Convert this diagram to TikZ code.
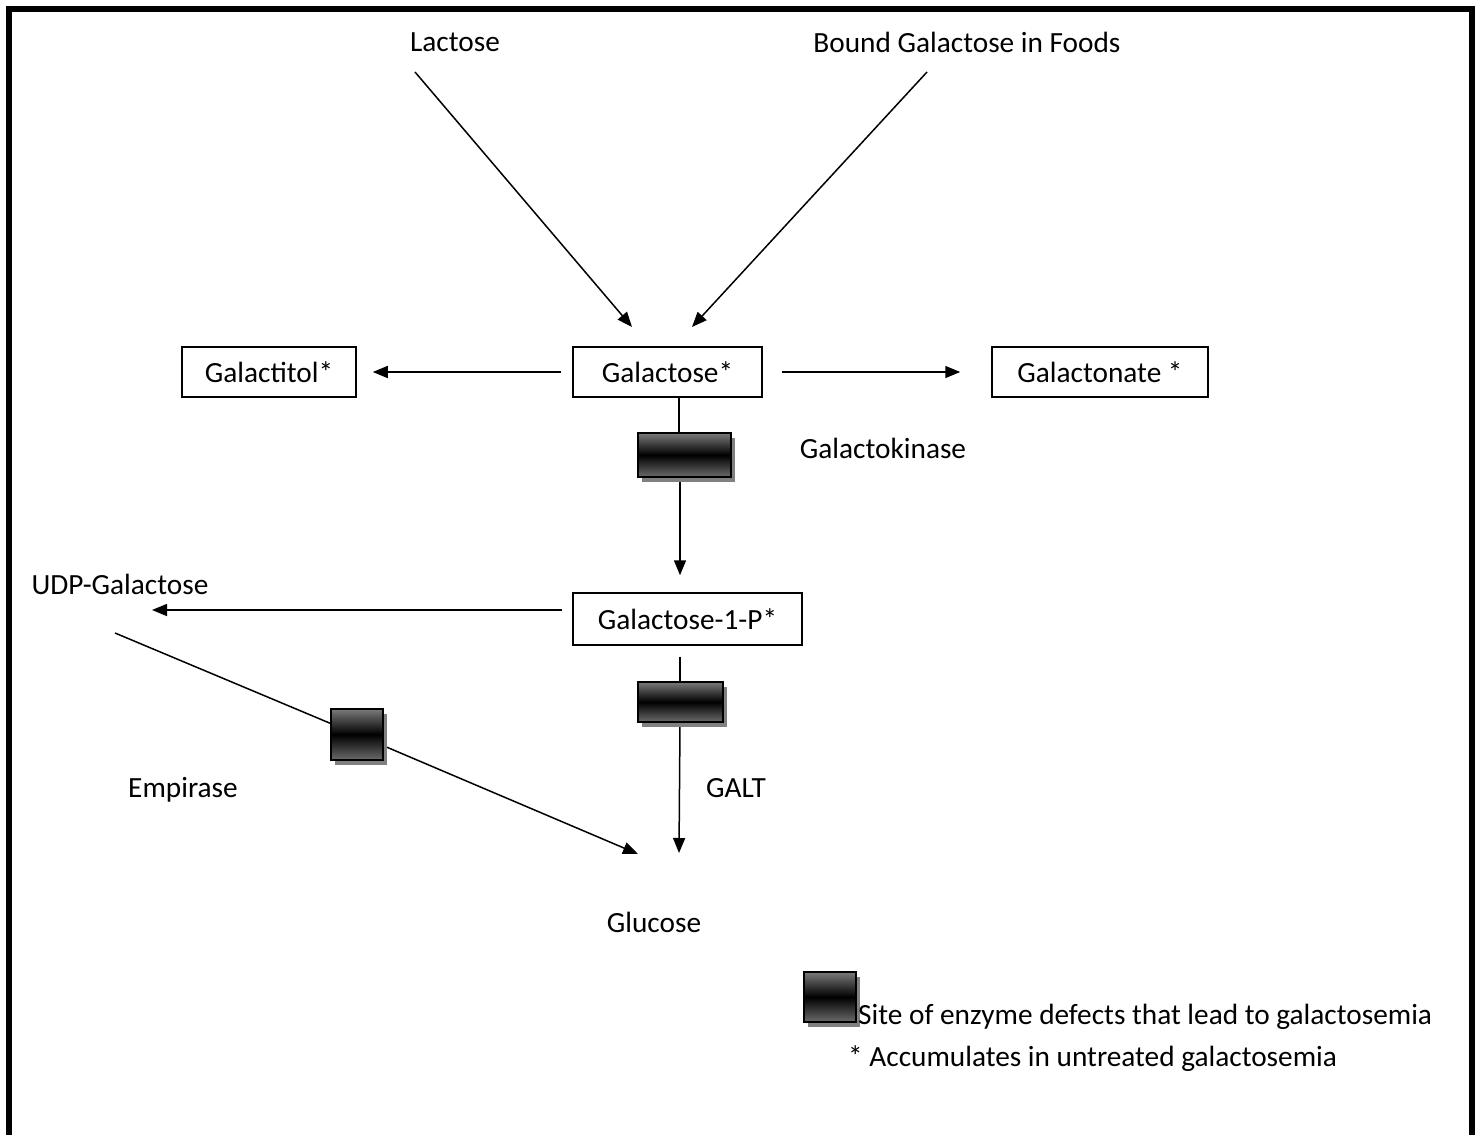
\documentclass[tikz,border=0pt]{standalone}
\usepackage{fontspec}
\setmainfont{Carlito}
\usetikzlibrary{arrows.meta,shadows}
\pgfdeclarelayer{background}
\pgfsetlayers{background,main}
\begin{document}
\begin{tikzpicture}[x=1pt,y=-1pt,
  every node/.style={font=\fontsize{29.3}{35}\selectfont, inner sep=0pt},
  bx/.style={draw, line width=1.5pt, minimum height=50pt},
  ln/.style={line width=1.5pt},
  arr/.style={line width=1.5pt, -{Triangle[length=15pt,width=12pt]}},
  enz/.style={draw, line width=2.2pt, top color=black!52, bottom color=black!58, middle color=black,
    drop shadow={shadow xshift=4pt, shadow yshift=-5pt, fill=black!50, opacity=1}}]
\useasboundingbox (0,0) rectangle (1478,1135);
\draw[line width=6pt] (9,1145) -- (9,9) -- (1472,9) -- (1472,1145);

% texts
\node (lac) at (455,42) {Lactose};
\node (bound) at (967,42) {Bound Galactose in Foods};
\node[bx, minimum width=189pt] (gal) at (667.5,372) {Galactose*};
\node[bx, minimum width=174pt] (galtol) at (269,372) {Galactitol*};
\node[bx, minimum width=216pt] (galton) at (1100,372) {Galactonate *};
\node[bx, minimum width=229pt, minimum height=52pt] (g1p) at (687.5,619) {Galactose-1-P*};
\node (gk) at (883,448) {Galactokinase};
\node (udp) at (120,584) {UDP-Galactose};
\node (galt) at (736,788) {GALT};
\node (emp) at (183,790) {Empirase};
\node (glu) at (654,922) {Glucose};

% enzyme blocks
\node[enz, minimum width=93pt, minimum height=44pt] (e1) at (684.5,455) {};
\node[enz, minimum width=85pt, minimum height=40pt] (e2) at (680.5,702) {};
\node[enz, minimum width=52pt, minimum height=51pt] (e3) at (357,734.5) {};
\node[enz, minimum width=52pt, minimum height=50pt] (leg) at (830,997) {};
\node[anchor=base west] (legt) at (858,1024) {Site of enzyme defects that lead to galactosemia};
\node[anchor=base west] (acc) at (848,1066) {* Accumulates in untreated galactosemia};

\begin{pgfonlayer}{background}
\draw[arr] ([xshift=-40pt,yshift=-30pt]lac.center) -- ([xshift=-35.5pt,yshift=45pt]gal.center);
\draw[arr] ([xshift=-40pt,yshift=-30pt]bound.center) -- ([xshift=24.5pt,yshift=45pt]gal.center);
\draw[arr, shorten <=11pt, shorten >=16pt] (gal.west) -- (galtol.east);
\draw[arr, shorten <=19pt, shorten >=31pt] (gal.east) -- (galton.west);
\draw[ln] ([xshift=11.5pt]gal.south) -- ([xshift=-5.5pt]e1.north);
\draw[arr, shorten >=17pt] ([xshift=-4.5pt]e1.south) -- ([xshift=-7.5pt]g1p.north);
\draw[arr, shorten <=10pt] ([yshift=9pt]g1p.west) -- ([xshift=32pt,yshift=-26pt]udp.center);
\draw[ln, shorten <=11pt] ([xshift=-7.5pt]g1p.south) -- ([xshift=-0.5pt]e2.north);
\draw[arr] ([xshift=-0.5pt]e2.south) -- ([xshift=25pt,yshift=69pt]glu.center);
\draw[ln] ([xshift=-5pt,yshift=-49pt]udp.center) -- (e3);
\draw[arr] (e3) -- ([xshift=-16pt,yshift=68pt]glu.center);
\end{pgfonlayer}
\end{tikzpicture}
\end{document}
